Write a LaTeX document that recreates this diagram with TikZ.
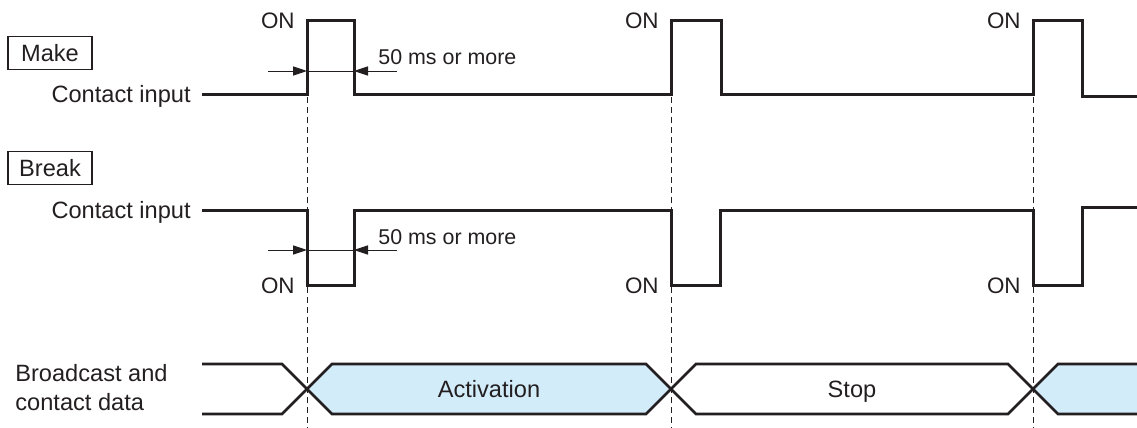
\documentclass[tikz,border=0pt]{standalone}
\usepackage{fontspec}
\setmainfont{Liberation Sans}
\usepackage{xcolor}
\definecolor{inkblack}{RGB}{35, 31, 32}
\definecolor{activeblue}{RGB}{211, 236, 250}
\usetikzlibrary{arrows.meta, calc}

\begin{document}
\begin{tikzpicture}[x=0.5pt, y=-0.5pt, >={Triangle[length=7pt, width=4.6pt]},
    font=\fontsize{11.8}{14.5}\selectfont,
    every node/.style={text=inkblack, inner sep=0pt},
    signal/.style={inkblack, line width=1.5pt},
    bus/.style={inkblack, line width=1.3pt},
    mark line/.style={inkblack, line width=0.5pt, dash pattern=on 3pt off 2pt},
    gap label/.style={anchor=west, font=\fontsize{10.7}{13}\selectfont},
    tagbox/.style={draw=inkblack, line width=0.6pt, minimum width=42pt, minimum height=16.5pt}]
    \useasboundingbox (0,0) rectangle (1137,428);

    % time marks
    \foreach \t in {307, 671, 1033}
        \draw[mark line] (\t, 97) -- (\t, 428);

    % make contact
    \node[tagbox] (make) at (50, 53) {Make};
    \node[anchor=base east] (makein) at (191, 102) {Contact input};
    \draw[signal] (202, 94.5) -- (307, 94.5) -- (307, 20) -- (354, 20) -- (354, 94.5)
        -- (671, 94.5) -- (671, 20) -- (721, 20) -- (721, 94.5)
        -- (1033, 94.5) -- (1033, 20) -- (1082, 20) -- (1082, 96) -- (1137, 96);
    \foreach \t [count=\i] in {307, 671, 1033}
        \node[anchor=base east, font=\fontsize{11.2}{13}\selectfont] (makeon\i) at (\t-12, 28) {ON};

    \coordinate (mA) at (307, 71);
    \coordinate (mB) at (354, 71);
    \draw[inkblack, line width=0.5pt] (mA) -- (mB);
    \draw[->, inkblack, line width=0.5pt] ($(mA) + (-39, 0)$) -- (mA);
    \draw[->, inkblack, line width=0.5pt] ($(mB) + (43, 0)$) -- (mB);
    \node[gap label] (makegap) at (378, 57) {50 ms or more};

    % break contact
    \node[tagbox] (break) at (50, 168) {Break};
    \node[anchor=base east] (breakin) at (191, 218) {Contact input};
    \draw[signal] (202, 210) -- (307, 210) -- (307, 285) -- (354, 285) -- (354, 210)
        -- (671, 210) -- (671, 285) -- (720, 285) -- (720, 210)
        -- (1033, 210) -- (1033, 285) -- (1082, 285) -- (1082, 207) -- (1137, 207);
    \foreach \t [count=\i] in {307, 671, 1033}
        \node[anchor=base east, font=\fontsize{11.2}{13}\selectfont] (breakon\i) at (\t-12, 293) {ON};

    \coordinate (bA) at (307, 250);
    \coordinate (bB) at (354, 250);
    \draw[inkblack, line width=0.5pt] (bA) -- (bB);
    \draw[->, inkblack, line width=0.5pt] ($(bA) + (-39, 0)$) -- (bA);
    \draw[->, inkblack, line width=0.5pt] ($(bB) + (43, 0)$) -- (bB);
    \node[gap label] (breakgap) at (378, 237) {50 ms or more};

    % broadcast and contact data
    \node[anchor=west, align=left] (data) at (15, 388) {Broadcast and\\contact data};
    \draw[bus] (202, 364) -- (282, 364) -- (307, 389) -- (282, 414) -- (202, 414);
    \filldraw[bus, fill=activeblue] (307, 389) -- (332, 364) -- (646, 364) -- (671, 389)
        -- (646, 414) -- (332, 414) -- cycle;
    \node[anchor=base] (act) at (489, 397) {Activation};
    \draw[bus] (671, 389) -- (696, 364) -- (1008, 364) -- (1033, 389)
        -- (1008, 414) -- (696, 414) -- cycle;
    \node[anchor=base] (stop) at (852, 397) {Stop};
    \fill[activeblue] (1033, 389) -- (1058, 364) -- (1137, 364) -- (1137, 414) -- (1058, 414) -- cycle;
    \draw[bus] (1137, 364) -- (1058, 364) -- (1033, 389) -- (1058, 414) -- (1137, 414);
\end{tikzpicture}
\end{document}
